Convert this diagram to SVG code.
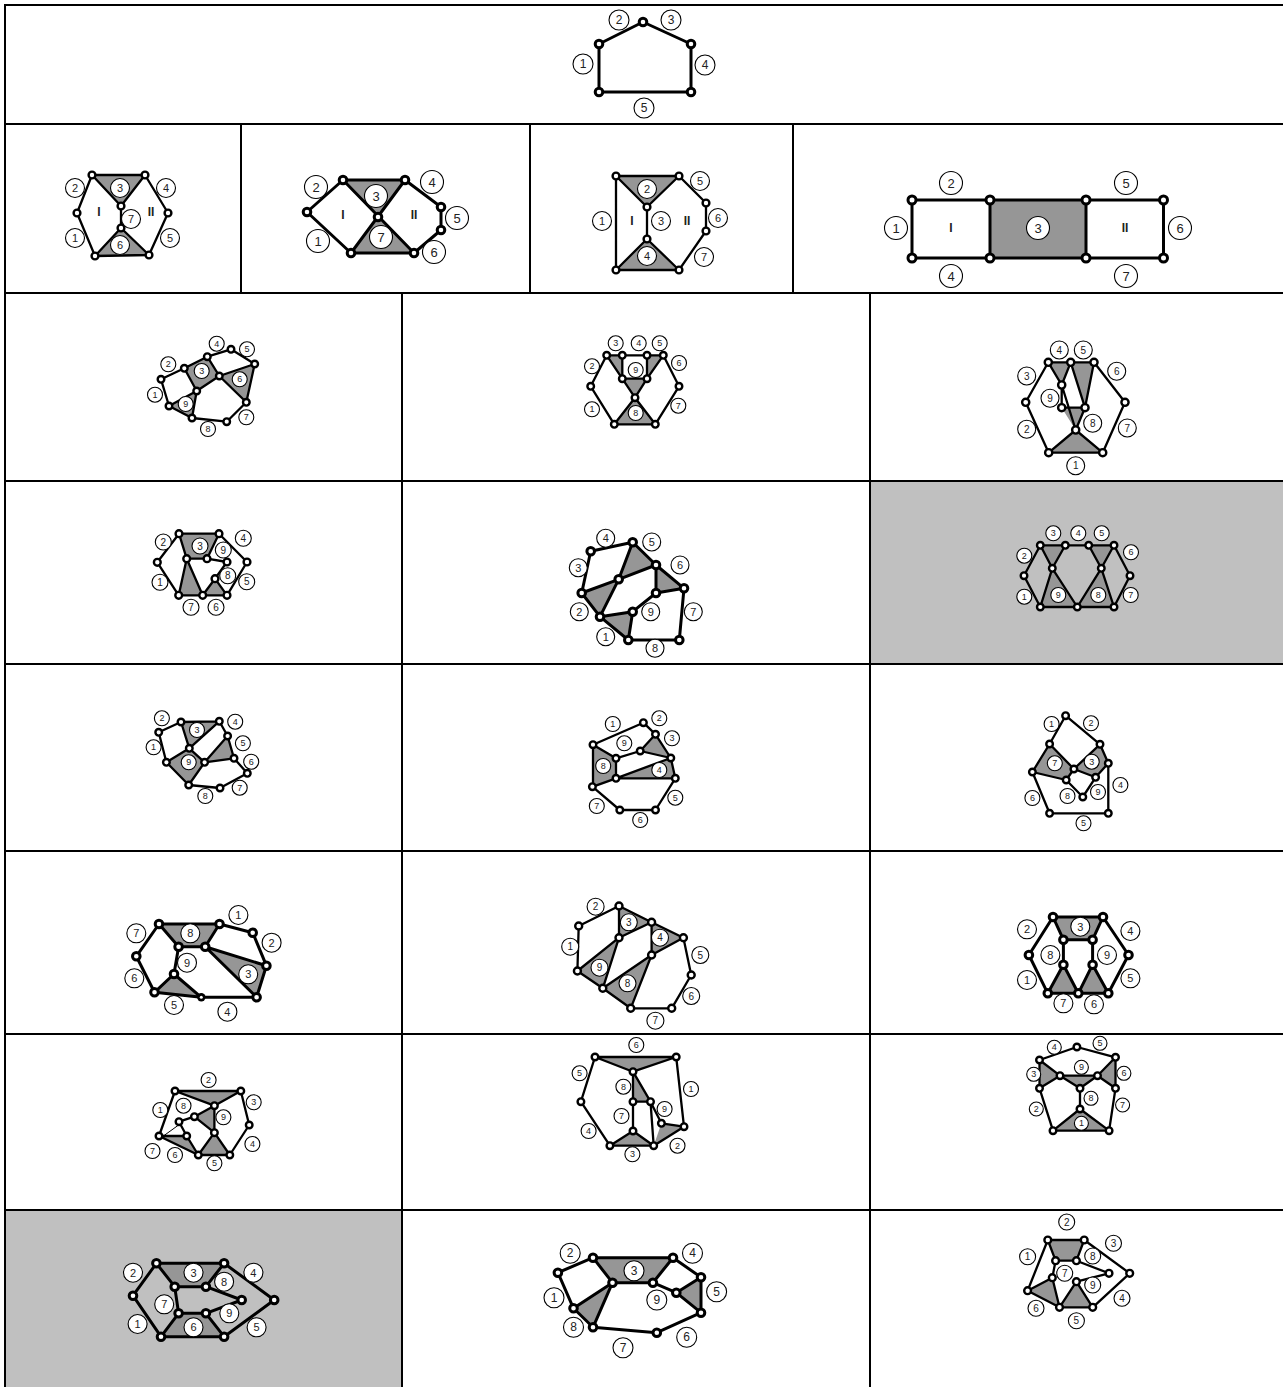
<svg xmlns="http://www.w3.org/2000/svg" width="1283" height="1387" viewBox="0 0 1283 1387">
<style>
text{font-family:"Liberation Sans",Arial,sans-serif;text-anchor:middle;dominant-baseline:central;fill:#222}
.grid{fill:none;stroke:#000;stroke-width:2}
.f{fill:#969696;stroke:none}
.e{fill:none;stroke:#000;stroke-width:2.3;stroke-linejoin:round;stroke-linecap:round}
.v{fill:#fff;stroke:#000;stroke-width:2.4}
.l circle{fill:#fff;stroke:#000;stroke-width:1.1}
.t7 text{font-size:9px}.t8 text{font-size:10px}.t9 text{font-size:11px}.t10 text{font-size:12px}.t11 text{font-size:13px}
.r text{font-weight:bold;font-size:12px}
.big .e{stroke-width:3}.big .v{stroke-width:3}
</style>
<g id="table">
<rect x="871" y="482" width="412" height="181" fill="#c0c0c0"/>
<rect x="6" y="1211" width="396" height="176" fill="#c0c0c0"/>
<path class="grid" d="M5 1387V5H1283M5 124H1283M5 293H1283M5 481H1283M5 664H1283M5 851H1283M5 1034H1283M5 1210H1283M241 124V293M530 124V293M793 124V293M402 293V1387M870 293V1387"/>
</g>
<g id="p01" class="t10 big">
<path class="e" d="M599 44L643 22L691 44V92H599Z"/>
<g><circle class="v" cx="599" cy="44" r="3.8"/><circle class="v" cx="643" cy="22" r="3.8"/><circle class="v" cx="691" cy="44" r="3.8"/><circle class="v" cx="691" cy="92" r="3.8"/><circle class="v" cx="599" cy="92" r="3.8"/></g>
<g class="l"><circle cx="583" cy="64" r="10"/><text x="583" y="64">1</text></g><g class="l"><circle cx="619" cy="20" r="10"/><text x="619" y="20">2</text></g><g class="l"><circle cx="671" cy="20" r="10"/><text x="671" y="20">3</text></g><g class="l"><circle cx="705" cy="65" r="10"/><text x="705" y="65">4</text></g><g class="l"><circle cx="644" cy="108" r="10"/><text x="644" y="108">5</text></g>
</g>
<g id="p02" class="t9">
<path class="f" d="M92 175H145L121 206ZM121 228L95 256L149 255Z"/>
<path class="e" d="M92 175H145L121 206ZM121 206V228M121 228L95 256L149 255ZM92 175L77 213L95 256M145 175L168 213L149 255"/>
<g><circle class="v" cx="92" cy="175" r="3.4"/><circle class="v" cx="145" cy="175" r="3.4"/><circle class="v" cx="121" cy="206" r="3.4"/><circle class="v" cx="121" cy="228" r="3.4"/><circle class="v" cx="77" cy="213" r="3.4"/><circle class="v" cx="168" cy="213" r="3.4"/><circle class="v" cx="95" cy="256" r="3.4"/><circle class="v" cx="149" cy="255" r="3.4"/></g>
<g class="l"><circle cx="75" cy="188" r="9.5"/><text x="75" y="188">2</text></g><g class="l"><circle cx="75" cy="238" r="9.5"/><text x="75" y="238">1</text></g><g class="l"><circle cx="120" cy="188" r="9.5"/><text x="120" y="188">3</text></g><g class="l"><circle cx="131" cy="219" r="9.5"/><text x="131" y="219">7</text></g><g class="l"><circle cx="120" cy="245" r="9.5"/><text x="120" y="245">6</text></g><g class="l"><circle cx="166" cy="188" r="9.5"/><text x="166" y="188">4</text></g><g class="l"><circle cx="170" cy="238" r="9.5"/><text x="170" y="238">5</text></g>
<g class="r"><text x="99" y="212">I</text><text x="151" y="212">II</text></g>
</g>
<g id="p03" class="t11 big">
<path class="f" d="M343 180H405L378 217ZM378 217L351 253H414Z"/>
<path class="e" d="M343 180H405L351 253H414L343 180M307 212L343 180M307 212L351 253M405 180L441 207V230L414 253"/>
<g><circle class="v" cx="343" cy="180" r="3.8"/><circle class="v" cx="405" cy="180" r="3.8"/><circle class="v" cx="378" cy="217" r="3.8"/><circle class="v" cx="307" cy="212" r="3.8"/><circle class="v" cx="351" cy="253" r="3.8"/><circle class="v" cx="414" cy="253" r="3.8"/><circle class="v" cx="441" cy="207" r="3.8"/><circle class="v" cx="441" cy="230" r="3.8"/></g>
<g class="l"><circle cx="316" cy="187" r="11.5"/><text x="316" y="187">2</text></g><g class="l"><circle cx="318" cy="241" r="11.5"/><text x="318" y="241">1</text></g><g class="l"><circle cx="376" cy="196" r="11.5"/><text x="376" y="196">3</text></g><g class="l"><circle cx="381" cy="237" r="11.5"/><text x="381" y="237">7</text></g><g class="l"><circle cx="432" cy="182" r="11.5"/><text x="432" y="182">4</text></g><g class="l"><circle cx="457" cy="218" r="11.5"/><text x="457" y="218">5</text></g><g class="l"><circle cx="434" cy="252" r="11.5"/><text x="434" y="252">6</text></g>
<g class="r"><text x="343" y="215">I</text><text x="414" y="215">II</text></g>
</g>
<g id="p04" class="t9">
<path class="f" d="M616 176H679L647 207ZM647 239L616 270H679Z"/>
<path class="e" d="M616 176H679L647 207ZM647 207V239M647 239L616 270H679ZM616 176V270M679 176L706 203V231L679 270"/>
<g><circle class="v" cx="616" cy="176" r="3.4"/><circle class="v" cx="679" cy="176" r="3.4"/><circle class="v" cx="647" cy="207" r="3.4"/><circle class="v" cx="647" cy="239" r="3.4"/><circle class="v" cx="616" cy="270" r="3.4"/><circle class="v" cx="679" cy="270" r="3.4"/><circle class="v" cx="706" cy="203" r="3.4"/><circle class="v" cx="706" cy="231" r="3.4"/></g>
<g class="l"><circle cx="602" cy="221" r="9.5"/><text x="602" y="221">1</text></g><g class="l"><circle cx="647" cy="189" r="9.5"/><text x="647" y="189">2</text></g><g class="l"><circle cx="661" cy="221" r="9.5"/><text x="661" y="221">3</text></g><g class="l"><circle cx="647" cy="256" r="9.5"/><text x="647" y="256">4</text></g><g class="l"><circle cx="700" cy="181" r="9.5"/><text x="700" y="181">5</text></g><g class="l"><circle cx="718" cy="218" r="9.5"/><text x="718" y="218">6</text></g><g class="l"><circle cx="704" cy="257" r="9.5"/><text x="704" y="257">7</text></g>
<g class="r"><text x="632" y="221">I</text><text x="687" y="221">II</text></g>
</g>
<g id="p05" class="t11 big">
<rect class="f" x="990" y="200" width="96" height="58"/>
<path class="e" d="M912 200H1163.500V258H912ZM990 200V258M1086 200V258"/>
<g><circle class="v" cx="912" cy="200" r="4"/><circle class="v" cx="990" cy="200" r="4"/><circle class="v" cx="1086" cy="200" r="4"/><circle class="v" cx="1163.500" cy="200" r="4"/><circle class="v" cx="912" cy="258" r="4"/><circle class="v" cx="990" cy="258" r="4"/><circle class="v" cx="1086" cy="258" r="4"/><circle class="v" cx="1163.500" cy="258" r="4"/></g>
<g class="l"><circle cx="951" cy="183" r="11.500"/><text x="951" y="183">2</text></g><g class="l"><circle cx="1126" cy="183" r="11.500"/><text x="1126" y="183">5</text></g><g class="l"><circle cx="896" cy="228" r="11.500"/><text x="896" y="228">1</text></g><g class="l"><circle cx="1038" cy="228" r="11.500"/><text x="1038" y="228">3</text></g><g class="l"><circle cx="1180" cy="228" r="11.500"/><text x="1180" y="228">6</text></g><g class="l"><circle cx="951" cy="276" r="11.500"/><text x="951" y="276">4</text></g><g class="l"><circle cx="1126" cy="276" r="11.500"/><text x="1126" y="276">7</text></g>
<g class="r"><text x="951" y="228">I</text><text x="1125" y="228">II</text></g>
</g>
<g id="p06" class="t7">
<path class="f" d="M184.300 368.300L207.300 356.700L219.300 376L196.700 391ZM219.300 376L254.700 364L246.300 402.300ZM169 406L196.700 391L192 418Z"/>
<path class="e" d="M161 379.300L184.300 368.300L207.300 356.700L231 349.300L254.700 364L219.300 376L246.300 402.300L254.700 364M246.300 402.300L226.700 421.700L192 418L169 406L161 379.300M169 406L196.700 391L192 418M196.700 391L219.300 376L207.300 356.700M184.300 368.300L196.700 391"/>
<g><circle class="v" cx="161" cy="379.300" r="3.3"/><circle class="v" cx="184.300" cy="368.300" r="3.3"/><circle class="v" cx="207.300" cy="356.700" r="3.3"/><circle class="v" cx="231" cy="349.300" r="3.3"/><circle class="v" cx="254.700" cy="364" r="3.3"/><circle class="v" cx="219.300" cy="376" r="3.3"/><circle class="v" cx="196.700" cy="391" r="3.3"/><circle class="v" cx="169" cy="406" r="3.3"/><circle class="v" cx="192" cy="418" r="3.3"/><circle class="v" cx="226.700" cy="421.700" r="3.3"/><circle class="v" cx="246.300" cy="402.300" r="3.3"/></g>
<g class="l"><circle cx="155" cy="394.700" r="7.500"/><text x="155" y="394.700">1</text></g><g class="l"><circle cx="168.300" cy="364.300" r="7.500"/><text x="168.300" y="364.300">2</text></g><g class="l"><circle cx="201.700" cy="371" r="7.500"/><text x="201.700" y="371">3</text></g><g class="l"><circle cx="216.700" cy="343.700" r="7.500"/><text x="216.700" y="343.700">4</text></g><g class="l"><circle cx="247" cy="349.300" r="7.500"/><text x="247" y="349.300">5</text></g><g class="l"><circle cx="239.700" cy="379.300" r="7.500"/><text x="239.700" y="379.300">6</text></g><g class="l"><circle cx="246.300" cy="417.300" r="7.500"/><text x="246.300" y="417.300">7</text></g><g class="l"><circle cx="208" cy="429" r="7.500"/><text x="208" y="429">8</text></g><g class="l"><circle cx="185.700" cy="404" r="7.500"/><text x="185.700" y="404">9</text></g>
</g>
<g id="p07" class="t7">
<path class="f" d="M606.700 355.300H622.300V378.700ZM647 355.300H663.300L647 378.700ZM622.300 378.700H647L635 397.700ZM635 397.700L614.300 424.300H655.300Z"/>
<path class="e" d="M606.700 355.300H663.300M606.700 355.300L622.300 378.700L622.300 355.300M647 355.300V378.700L663.300 355.300M622.300 378.700H647L635 397.700ZM635 397.700L614.300 424.300H655.300ZM606.700 355.300L590.700 386.300L614.300 424.300M663.300 355.300L679 386.300L655.300 424.300"/>
<g><circle class="v" cx="606.700" cy="355.300" r="3.300"/><circle class="v" cx="622.300" cy="355.300" r="3.300"/><circle class="v" cx="647" cy="355.300" r="3.300"/><circle class="v" cx="663.300" cy="355.300" r="3.300"/><circle class="v" cx="622.300" cy="378.700" r="3.300"/><circle class="v" cx="647" cy="378.700" r="3.300"/><circle class="v" cx="635" cy="397.700" r="3.300"/><circle class="v" cx="590.700" cy="386.300" r="3.300"/><circle class="v" cx="679" cy="386.300" r="3.300"/><circle class="v" cx="614.300" cy="424.300" r="3.300"/><circle class="v" cx="655.300" cy="424.300" r="3.300"/></g>
<g class="l"><circle cx="592" cy="409.300" r="7.500"/><text x="592" y="409.300">1</text></g><g class="l"><circle cx="592" cy="366.300" r="7.500"/><text x="592" y="366.300">2</text></g><g class="l"><circle cx="615.700" cy="343.300" r="7.500"/><text x="615.700" y="343.300">3</text></g><g class="l"><circle cx="638.700" cy="343.300" r="7.500"/><text x="638.700" y="343.300">4</text></g><g class="l"><circle cx="659.700" cy="343.300" r="7.500"/><text x="659.700" y="343.300">5</text></g><g class="l"><circle cx="679" cy="363" r="7.500"/><text x="679" y="363">6</text></g><g class="l"><circle cx="678.300" cy="405.700" r="7.500"/><text x="678.300" y="405.700">7</text></g><g class="l"><circle cx="635.700" cy="413" r="7.500"/><text x="635.700" y="413">8</text></g><g class="l"><circle cx="635.700" cy="370" r="7.500"/><text x="635.700" y="370">9</text></g>
</g>
<g id="p08" class="t8">
<path class="f" d="M1048.300 362.300H1070.700L1061.700 385ZM1070.700 362.300H1094L1085 407.700ZM1061.700 407.700H1085L1075.700 430ZM1075.700 430L1048.700 452.700H1102.700Z"/>
<path class="e" d="M1048.300 362.300H1094M1048.300 362.300L1061.700 385L1070.700 362.300L1085 407.700L1094 362.300M1061.700 385V407.700H1085L1075.700 430ZM1075.700 430L1048.700 452.700H1102.700ZM1048.300 362.300L1025.700 402.300L1048.700 452.700M1094 362.300L1125 402.300L1102.700 452.700"/>
<g><circle class="v" cx="1048.300" cy="362.300" r="3.600"/><circle class="v" cx="1070.700" cy="362.300" r="3.600"/><circle class="v" cx="1094" cy="362.300" r="3.600"/><circle class="v" cx="1061.700" cy="385" r="3.600"/><circle class="v" cx="1061.700" cy="407.700" r="3.600"/><circle class="v" cx="1085" cy="407.700" r="3.600"/><circle class="v" cx="1075.700" cy="430" r="3.600"/><circle class="v" cx="1025.700" cy="402.300" r="3.600"/><circle class="v" cx="1125" cy="402.300" r="3.600"/><circle class="v" cx="1048.700" cy="452.700" r="3.600"/><circle class="v" cx="1102.700" cy="452.700" r="3.600"/></g>
<g class="l"><circle cx="1075.700" cy="465.700" r="9"/><text x="1075.700" y="465.700">1</text></g><g class="l"><circle cx="1026.700" cy="429.300" r="9"/><text x="1026.700" y="429.300">2</text></g><g class="l"><circle cx="1026.700" cy="376" r="9"/><text x="1026.700" y="376">3</text></g><g class="l"><circle cx="1059.300" cy="350" r="9"/><text x="1059.300" y="350">4</text></g><g class="l"><circle cx="1083.300" cy="350" r="9"/><text x="1083.300" y="350">5</text></g><g class="l"><circle cx="1116.700" cy="371.300" r="9"/><text x="1116.700" y="371.300">6</text></g><g class="l"><circle cx="1127.300" cy="428" r="9"/><text x="1127.300" y="428">7</text></g><g class="l"><circle cx="1092.700" cy="423.300" r="9"/><text x="1092.700" y="423.300">8</text></g><g class="l"><circle cx="1050" cy="398.300" r="9"/><text x="1050" y="398.300">9</text></g>
</g>
<g id="p09" class="t8">
<path class="f" d="M179 533.700H219L207 558.700H186.700ZM186.700 558.700L178.700 595.300H202.700ZM215 578.700L202.700 595.300H227Z"/>
<path class="e" d="M179 533.700H219L207 558.700H186.700ZM207 558.700L227 562M186.700 558.700L178.700 595.300H227M186.700 558.700L202.700 595.300L215 578.700L227 595.300M215 578.700L227 562M219 533.700L247 562L227 595.300M179 533.700L157.300 562.300L178.700 595.300"/>
<g><circle class="v" cx="179" cy="533.700" r="3.400"/><circle class="v" cx="219" cy="533.700" r="3.400"/><circle class="v" cx="186.700" cy="558.700" r="3.400"/><circle class="v" cx="207" cy="558.700" r="3.400"/><circle class="v" cx="227" cy="562" r="3.400"/><circle class="v" cx="247" cy="562" r="3.400"/><circle class="v" cx="157.300" cy="562.300" r="3.400"/><circle class="v" cx="215" cy="578.700" r="3.400"/><circle class="v" cx="178.700" cy="595.300" r="3.400"/><circle class="v" cx="202.700" cy="595.300" r="3.400"/><circle class="v" cx="227" cy="595.300" r="3.400"/></g>
<g class="l"><circle cx="160" cy="582.300" r="8"/><text x="160" y="582.300">1</text></g><g class="l"><circle cx="163.300" cy="542" r="8"/><text x="163.300" y="542">2</text></g><g class="l"><circle cx="200" cy="546" r="8"/><text x="200" y="546">3</text></g><g class="l"><circle cx="243.300" cy="538.300" r="8"/><text x="243.300" y="538.300">4</text></g><g class="l"><circle cx="246.700" cy="581.700" r="8"/><text x="246.700" y="581.700">5</text></g><g class="l"><circle cx="216" cy="607.300" r="8"/><text x="216" y="607.300">6</text></g><g class="l"><circle cx="191" cy="607.300" r="8"/><text x="191" y="607.300">7</text></g><g class="l"><circle cx="227.700" cy="575.700" r="8"/><text x="227.700" y="575.700">8</text></g><g class="l"><circle cx="223.300" cy="550" r="8"/><text x="223.300" y="550">9</text></g>
</g>
<g id="p10" class="t9 big">
<path class="f" d="M632.700 542.300L656 565L618.700 579.300ZM618.700 579.300L581.700 593L600 616.700ZM656 565L684 588.300L656 593ZM600 616.700L632.700 611.700L628.300 640Z"/>
<path class="e" d="M590.700 551.300L632.700 542.300L656 565L684 588.300L656 593L656 565L618.700 579.300L632.700 542.300M618.700 579.300L581.700 593L600 616.700ZM581.700 593L590.700 551.300M600 616.700L632.700 611.700L656 593M632.700 611.700L628.300 640L600 616.700M628.300 640H679.300L684 588.300"/>
<g><circle class="v" cx="590.700" cy="551.300" r="3.800"/><circle class="v" cx="632.700" cy="542.300" r="3.800"/><circle class="v" cx="656" cy="565" r="3.800"/><circle class="v" cx="684" cy="588.300" r="3.800"/><circle class="v" cx="618.700" cy="579.300" r="3.800"/><circle class="v" cx="581.700" cy="593" r="3.800"/><circle class="v" cx="600" cy="616.700" r="3.800"/><circle class="v" cx="656" cy="593" r="3.800"/><circle class="v" cx="632.700" cy="611.700" r="3.800"/><circle class="v" cx="628.300" cy="640" r="3.800"/><circle class="v" cx="679.300" cy="640" r="3.800"/></g>
<g class="l"><circle cx="605.700" cy="636.700" r="9"/><text x="605.700" y="636.700">1</text></g><g class="l"><circle cx="579.300" cy="611.700" r="9"/><text x="579.300" y="611.700">2</text></g><g class="l"><circle cx="578.300" cy="567.700" r="9"/><text x="578.300" y="567.700">3</text></g><g class="l"><circle cx="605.700" cy="538.300" r="9"/><text x="605.700" y="538.300">4</text></g><g class="l"><circle cx="651.700" cy="542" r="9"/><text x="651.700" y="542">5</text></g><g class="l"><circle cx="680" cy="565" r="9"/><text x="680" y="565">6</text></g><g class="l"><circle cx="693.300" cy="611.700" r="9"/><text x="693.300" y="611.700">7</text></g><g class="l"><circle cx="655" cy="648.300" r="9"/><text x="655" y="648.300">8</text></g><g class="l"><circle cx="650.700" cy="611.700" r="9"/><text x="650.700" y="611.700">9</text></g>
</g>
<g id="p11" class="t7">
<path class="f" d="M1040.300 545.300H1065.300L1052.300 568.300ZM1088.700 545.300H1114L1101.300 568.300ZM1052.300 568.300L1040.300 607H1077.300ZM1101.300 568.300L1077.300 607H1114Z"/>
<path class="e" d="M1040.300 545.300H1114L1101.300 568.300L1088.700 545.300M1040.300 545.300L1052.300 568.300L1065.300 545.300M1052.300 568.300L1040.300 607H1114L1101.300 568.300L1077.300 607L1052.300 568.300M1040.300 545.300L1024 575.700L1040.300 607M1114 545.300L1130 575.700L1114 607"/>
<g><circle class="v" cx="1040.300" cy="545.300" r="3.300"/><circle class="v" cx="1065.300" cy="545.300" r="3.300"/><circle class="v" cx="1088.700" cy="545.300" r="3.300"/><circle class="v" cx="1114" cy="545.300" r="3.300"/><circle class="v" cx="1052.300" cy="568.300" r="3.300"/><circle class="v" cx="1101.300" cy="568.300" r="3.300"/><circle class="v" cx="1024" cy="575.700" r="3.300"/><circle class="v" cx="1130" cy="575.700" r="3.300"/><circle class="v" cx="1040.300" cy="607" r="3.300"/><circle class="v" cx="1077.300" cy="607" r="3.300"/><circle class="v" cx="1114" cy="607" r="3.300"/></g>
<g class="l"><circle cx="1024.300" cy="596.700" r="7.500"/><text x="1024.300" y="596.700">1</text></g><g class="l"><circle cx="1024.300" cy="555.700" r="7.500"/><text x="1024.300" y="555.700">2</text></g><g class="l"><circle cx="1053.300" cy="533.300" r="7.500"/><text x="1053.300" y="533.300">3</text></g><g class="l"><circle cx="1078.300" cy="533.300" r="7.500"/><text x="1078.300" y="533.300">4</text></g><g class="l"><circle cx="1101.700" cy="533.300" r="7.500"/><text x="1101.700" y="533.300">5</text></g><g class="l"><circle cx="1131" cy="552.300" r="7.500"/><text x="1131" y="552.300">6</text></g><g class="l"><circle cx="1130.700" cy="595" r="7.500"/><text x="1130.700" y="595">7</text></g><g class="l"><circle cx="1098.300" cy="595" r="7.500"/><text x="1098.300" y="595">8</text></g><g class="l"><circle cx="1058.300" cy="595" r="7.500"/><text x="1058.300" y="595">9</text></g>
</g>
<g id="p12" class="t7">
<path class="f" d="M181 722L219.300 721.300L189.300 748.300ZM227.600 736L204.600 762.300L234 758.300ZM166.400 762.300L189.300 748.300L204.600 762.300L188.700 785Z"/>
<path class="e" d="M181 722L219.300 721.300L189.300 748.300ZM181 722L158.700 732.300L166.400 762.300L189.300 748.300L204.600 762.300L188.700 785L166.400 762.300M219.300 721.300L227.600 736L204.600 762.300L234 758.300L227.600 736M234 758.300L247.300 773.300L220 788L188.700 785"/>
<g><circle class="v" cx="181" cy="722" r="3.300"/><circle class="v" cx="219.300" cy="721.300" r="3.300"/><circle class="v" cx="158.700" cy="732.300" r="3.300"/><circle class="v" cx="227.600" cy="736" r="3.300"/><circle class="v" cx="189.300" cy="748.300" r="3.300"/><circle class="v" cx="166.400" cy="762.300" r="3.300"/><circle class="v" cx="204.600" cy="762.300" r="3.300"/><circle class="v" cx="234" cy="758.300" r="3.300"/><circle class="v" cx="247.300" cy="773.300" r="3.300"/><circle class="v" cx="188.700" cy="785" r="3.300"/><circle class="v" cx="220" cy="788" r="3.300"/></g>
<g class="l"><circle cx="153.600" cy="747.300" r="7.500"/><text x="153.600" y="747.300">1</text></g><g class="l"><circle cx="161.900" cy="718.300" r="7.500"/><text x="161.900" y="718.300">2</text></g><g class="l"><circle cx="197" cy="730" r="7.500"/><text x="197" y="730">3</text></g><g class="l"><circle cx="235.200" cy="721.700" r="7.500"/><text x="235.200" y="721.700">4</text></g><g class="l"><circle cx="242.900" cy="743.300" r="7.500"/><text x="242.900" y="743.300">5</text></g><g class="l"><circle cx="251.200" cy="761.700" r="7.500"/><text x="251.200" y="761.700">6</text></g><g class="l"><circle cx="239.700" cy="787.700" r="7.500"/><text x="239.700" y="787.700">7</text></g><g class="l"><circle cx="205.300" cy="796" r="7.500"/><text x="205.300" y="796">8</text></g><g class="l"><circle cx="188.700" cy="762.300" r="7.500"/><text x="188.700" y="762.300">9</text></g>
</g>
<g id="p13" class="t7">
<path class="f" d="M593 744.700L616 758.300V778.300L592.400 786.700ZM655.500 734.300L640.200 751L670.800 758ZM616 778.300L670.800 758L675.300 778.300Z"/>
<path class="e" d="M593 744.700L643.400 722.700L655.500 734.300L640.200 751L670.800 758L655.500 734.300M640.200 751L616 758.300L593 744.700V786.700L616 778.300V758.300M616 778.300L670.800 758L675.300 778.300H616M675.300 778.300L655.500 810H619.800L592.400 786.700"/>
<g><circle class="v" cx="643.400" cy="722.700" r="3.300"/><circle class="v" cx="655.500" cy="734.300" r="3.300"/><circle class="v" cx="640.200" cy="751" r="3.300"/><circle class="v" cx="670.800" cy="758" r="3.300"/><circle class="v" cx="593" cy="744.700" r="3.300"/><circle class="v" cx="616" cy="758.300" r="3.300"/><circle class="v" cx="616" cy="778.300" r="3.300"/><circle class="v" cx="592.400" cy="786.700" r="3.300"/><circle class="v" cx="675.300" cy="778.300" r="3.300"/><circle class="v" cx="655.500" cy="810" r="3.300"/><circle class="v" cx="619.800" cy="810" r="3.300"/></g>
<g class="l"><circle cx="612.800" cy="724" r="7.500"/><text x="612.800" y="724">1</text></g><g class="l"><circle cx="659.300" cy="718.300" r="7.500"/><text x="659.300" y="718.300">2</text></g><g class="l"><circle cx="672" cy="738.300" r="7.500"/><text x="672" y="738.300">3</text></g><g class="l"><circle cx="659.300" cy="770" r="7.500"/><text x="659.300" y="770">4</text></g><g class="l"><circle cx="675.300" cy="797.700" r="7.500"/><text x="675.300" y="797.700">5</text></g><g class="l"><circle cx="640.200" cy="820" r="7.500"/><text x="640.200" y="820">6</text></g><g class="l"><circle cx="596.800" cy="806" r="7.500"/><text x="596.800" y="806">7</text></g><g class="l"><circle cx="603.200" cy="766" r="7.500"/><text x="603.200" y="766">8</text></g><g class="l"><circle cx="624.300" cy="743.300" r="7.500"/><text x="624.300" y="743.300">9</text></g>
</g>
<g id="p14" class="t7">
<path class="f" d="M1049.600 744L1032.400 772L1066.200 780L1073.900 769ZM1100 744.300L1073.900 769L1095.600 777.300L1108.300 763.300Z"/>
<path class="e" d="M1049.600 744L1065.600 715.700L1100 744.300L1108.300 763.300L1095.600 777.300L1073.900 769L1100 744.300M1049.600 744L1032.400 772L1066.200 780L1073.900 769L1049.600 744M1066.200 780L1082.800 797L1095.600 777.300M1108.300 763.300V813.300H1049.600L1032.400 772"/>
<g><circle class="v" cx="1065.600" cy="715.700" r="3.300"/><circle class="v" cx="1049.600" cy="744" r="3.300"/><circle class="v" cx="1100" cy="744.300" r="3.300"/><circle class="v" cx="1032.400" cy="772" r="3.300"/><circle class="v" cx="1073.900" cy="769" r="3.300"/><circle class="v" cx="1066.200" cy="780" r="3.300"/><circle class="v" cx="1108.300" cy="763.300" r="3.300"/><circle class="v" cx="1095.600" cy="777.300" r="3.300"/><circle class="v" cx="1082.800" cy="797" r="3.300"/><circle class="v" cx="1049.600" cy="813.300" r="3.300"/><circle class="v" cx="1108.300" cy="813.300" r="3.300"/></g>
<g class="l"><circle cx="1051.600" cy="724" r="7.500"/><text x="1051.600" y="724">1</text></g><g class="l"><circle cx="1091" cy="723.300" r="7.500"/><text x="1091" y="723.300">2</text></g><g class="l"><circle cx="1091.700" cy="761.700" r="7.500"/><text x="1091.700" y="761.700">3</text></g><g class="l"><circle cx="1120.400" cy="785" r="7.500"/><text x="1120.400" y="785">4</text></g><g class="l"><circle cx="1083.500" cy="823.300" r="7.500"/><text x="1083.500" y="823.300">5</text></g><g class="l"><circle cx="1032.400" cy="798" r="7.500"/><text x="1032.400" y="798">6</text></g><g class="l"><circle cx="1054.800" cy="763.300" r="7.500"/><text x="1054.800" y="763.300">7</text></g><g class="l"><circle cx="1067.500" cy="796" r="7.500"/><text x="1067.500" y="796">8</text></g><g class="l"><circle cx="1098" cy="792" r="7.500"/><text x="1098" y="792">9</text></g>
</g>
<g id="p15" class="t9 big">
<path class="f" d="M159 924H219.500L205.200 946.700H178.600ZM205.200 946.700L266.400 965.700L256.600 997.300ZM174 974L154.500 992.300L201.300 997.300Z"/>
<path class="e" d="M159 924H219.500L205.200 946.700H178.600ZM219.500 924L252.700 932.700L266.400 965.700L256.600 997.300H201.300L154.500 992.300L136.300 956.300L159 924M178.600 946.700L174 974L154.500 992.300M174 974L201.300 997.300M205.200 946.700L266.400 965.700M205.200 946.700L256.600 997.300"/>
<g><circle class="v" cx="159" cy="924" r="3.800"/><circle class="v" cx="219.500" cy="924" r="3.800"/><circle class="v" cx="252.700" cy="932.700" r="3.800"/><circle class="v" cx="178.600" cy="946.700" r="3.800"/><circle class="v" cx="205.200" cy="946.700" r="3.800"/><circle class="v" cx="136.300" cy="956.300" r="3.800"/><circle class="v" cx="266.400" cy="965.700" r="3.800"/><circle class="v" cx="174" cy="974" r="3.800"/><circle class="v" cx="154.500" cy="992.300" r="3.800"/><circle cx="201.300" cy="997.300" r="4.200" fill="#000"/><circle cx="201.300" cy="997.300" r="1.500" fill="#fff"/><circle class="v" cx="256.600" cy="997.300" r="3.800"/></g>
<g class="l"><circle cx="238.400" cy="915" r="9.500"/><text x="238.400" y="915">1</text></g><g class="l"><circle cx="271.600" cy="942.700" r="9.500"/><text x="271.600" y="942.700">2</text></g><g class="l"><circle cx="248.200" cy="974.300" r="9.500"/><text x="248.200" y="974.300">3</text></g><g class="l"><circle cx="227.400" cy="1011.700" r="9.500"/><text x="227.400" y="1011.700">4</text></g><g class="l"><circle cx="174" cy="1005" r="9.500"/><text x="174" y="1005">5</text></g><g class="l"><circle cx="134.300" cy="978.300" r="9.500"/><text x="134.300" y="978.300">6</text></g><g class="l"><circle cx="136.300" cy="933.300" r="9.500"/><text x="136.300" y="933.300">7</text></g><g class="l"><circle cx="190.300" cy="933.300" r="9.500"/><text x="190.300" y="933.300">8</text></g><g class="l"><circle cx="187" cy="962.700" r="9.500"/><text x="187" y="962.700">9</text></g>
</g>
<g id="p16" class="t8">
<path class="f" d="M619 906L651.600 922.300L619 937.700ZM651.600 922.300L683.400 937.700L651.600 955ZM619 937.700L577.400 971L602.800 988.300ZM651.600 955L602.800 988.300L630.700 1008.300Z"/>
<path class="e" d="M578.700 926L619 906L651.600 922.300L683.400 937.700L691.200 975L671.700 1008.300H630.700L602.800 988.300L577.400 971L578.700 926M619 906V937.700L651.600 922.300V955L683.400 937.700M619 937.700L577.400 971M619 937.700L602.800 988.300M651.600 955L602.800 988.300M651.600 955L630.700 1008.300"/>
<g><circle class="v" cx="619" cy="906" r="3.500"/><circle class="v" cx="651.600" cy="922.300" r="3.500"/><circle class="v" cx="683.400" cy="937.700" r="3.500"/><circle class="v" cx="578.700" cy="926" r="3.500"/><circle class="v" cx="619" cy="937.700" r="3.500"/><circle class="v" cx="651.600" cy="955" r="3.500"/><circle class="v" cx="691.200" cy="975" r="3.500"/><circle class="v" cx="577.400" cy="971" r="3.500"/><circle class="v" cx="602.800" cy="988.300" r="3.500"/><circle class="v" cx="630.700" cy="1008.300" r="3.500"/><circle class="v" cx="671.700" cy="1008.300" r="3.500"/></g>
<g class="l"><circle cx="570.200" cy="946.700" r="8.500"/><text x="570.200" y="946.700">1</text></g><g class="l"><circle cx="595.600" cy="906.700" r="8.500"/><text x="595.600" y="906.700">2</text></g><g class="l"><circle cx="628.800" cy="922.300" r="8.500"/><text x="628.800" y="922.300">3</text></g><g class="l"><circle cx="660" cy="937.700" r="8.500"/><text x="660" y="937.700">4</text></g><g class="l"><circle cx="700.300" cy="955" r="8.500"/><text x="700.300" y="955">5</text></g><g class="l"><circle cx="691.200" cy="996" r="8.500"/><text x="691.200" y="996">6</text></g><g class="l"><circle cx="655.400" cy="1020.700" r="8.500"/><text x="655.400" y="1020.700">7</text></g><g class="l"><circle cx="627.500" cy="983.300" r="8.500"/><text x="627.500" y="983.300">8</text></g><g class="l"><circle cx="599.500" cy="967.700" r="8.500"/><text x="599.500" y="967.700">9</text></g>
</g>
<g id="p17" class="t9 big">
<path class="f" d="M1053 917H1103L1092.600 939.700H1063.400ZM1063.400 964.700L1047.800 993.300H1078.300ZM1092.600 964.700L1078.300 993.300H1108.300Z"/>
<path class="e" d="M1053 917H1103L1092.600 939.700H1063.400ZM1063.400 939.700V964.700L1047.800 993.300H1108.300L1092.600 964.700V939.700M1063.400 964.700L1078.300 993.300L1092.600 964.700M1053 917L1028.900 955L1047.800 993.300M1103 917L1128.500 955L1108.300 993.300"/>
<g><circle class="v" cx="1053" cy="917" r="3.800"/><circle class="v" cx="1103" cy="917" r="3.800"/><circle class="v" cx="1063.400" cy="939.700" r="3.800"/><circle class="v" cx="1092.600" cy="939.700" r="3.800"/><circle class="v" cx="1028.900" cy="955" r="3.800"/><circle class="v" cx="1128.500" cy="955" r="3.800"/><circle class="v" cx="1063.400" cy="964.700" r="3.800"/><circle class="v" cx="1092.600" cy="964.700" r="3.800"/><circle class="v" cx="1047.800" cy="993.300" r="3.800"/><circle class="v" cx="1078.300" cy="993.300" r="3.800"/><circle class="v" cx="1108.300" cy="993.300" r="3.800"/></g>
<g class="l"><circle cx="1027" cy="980" r="9.500"/><text x="1027" y="980">1</text></g><g class="l"><circle cx="1027" cy="929.300" r="9.500"/><text x="1027" y="929.300">2</text></g><g class="l"><circle cx="1080.300" cy="926.700" r="9.500"/><text x="1080.300" y="926.700">3</text></g><g class="l"><circle cx="1130.400" cy="931" r="9.500"/><text x="1130.400" y="931">4</text></g><g class="l"><circle cx="1130.400" cy="978.300" r="9.500"/><text x="1130.400" y="978.300">5</text></g><g class="l"><circle cx="1094" cy="1004.300" r="9.500"/><text x="1094" y="1004.300">6</text></g><g class="l"><circle cx="1063.400" cy="1003.300" r="9.500"/><text x="1063.400" y="1003.300">7</text></g><g class="l"><circle cx="1050.400" cy="955" r="9.500"/><text x="1050.400" y="955">8</text></g><g class="l"><circle cx="1107" cy="955" r="9.500"/><text x="1107" y="955">9</text></g>
</g>
<g id="p18" class="t7">
<path class="f" d="M175 1091H240.800L214.400 1105.700ZM214.400 1105.700L194.400 1116.700L214.400 1132.700ZM159 1136H186.700L198.300 1155ZM214.400 1132.700L198.300 1155H229.800Z"/>
<path class="e" d="M175 1091H240.800L214.400 1105.700ZM214.400 1105.700V1132.700L194.400 1116.700L214.400 1105.700M194.400 1116.700L179 1121.700L186.700 1136M159 1136H186.700L198.300 1155ZM214.400 1132.700L198.300 1155H229.800ZM240.800 1091L249.200 1125L229.800 1155M175 1091L159 1136"/>
<path fill="none" stroke="#000" stroke-width="1" d="M162 1137L180 1124"/>
<g><circle class="v" cx="175" cy="1091" r="3.300"/><circle class="v" cx="240.800" cy="1091" r="3.300"/><circle class="v" cx="214.400" cy="1105.700" r="3.300"/><circle class="v" cx="194.400" cy="1116.700" r="3.300"/><circle class="v" cx="179" cy="1121.700" r="3.300"/><circle class="v" cx="249.200" cy="1125" r="3.300"/><circle class="v" cx="214.400" cy="1132.700" r="3.300"/><circle class="v" cx="159" cy="1136" r="3.300"/><circle class="v" cx="186.700" cy="1136" r="3.300"/><circle class="v" cx="198.300" cy="1155" r="3.300"/><circle class="v" cx="229.800" cy="1155" r="3.300"/></g>
<g class="l"><circle cx="160.300" cy="1110" r="7.500"/><text x="160.300" y="1110">1</text></g><g class="l"><circle cx="208.600" cy="1080" r="7.500"/><text x="208.600" y="1080">2</text></g><g class="l"><circle cx="253.700" cy="1102.300" r="7.500"/><text x="253.700" y="1102.300">3</text></g><g class="l"><circle cx="252.400" cy="1144" r="7.500"/><text x="252.400" y="1144">4</text></g><g class="l"><circle cx="214.400" cy="1163.300" r="7.500"/><text x="214.400" y="1163.300">5</text></g><g class="l"><circle cx="175" cy="1155" r="7.500"/><text x="175" y="1155">6</text></g><g class="l"><circle cx="152.500" cy="1151" r="7.500"/><text x="152.500" y="1151">7</text></g><g class="l"><circle cx="183.500" cy="1105.700" r="7.500"/><text x="183.500" y="1105.700">8</text></g><g class="l"><circle cx="223.400" cy="1117.300" r="7.500"/><text x="223.400" y="1117.300">9</text></g>
</g>
<g id="p19" class="t7">
<path class="f" d="M595 1057H676.200L633 1071.700ZM633 1071.700V1101.700H650.500ZM661.400 1123.300L684 1126.700L653.700 1145.700ZM633 1131L609.900 1145.700H653.700Z"/>
<path class="e" d="M595 1057H676.200L633 1071.700ZM633 1071.700V1101.700H650.500ZM650.500 1101.700L661.400 1123.300L684 1126.700L653.700 1145.700ZM633 1101.700V1131L609.900 1145.700H653.700L633 1131M676.200 1057L684 1126.700M595 1057L580.900 1101.700L609.900 1145.700"/>
<g><circle class="v" cx="595" cy="1057" r="3.300"/><circle class="v" cx="676.200" cy="1057" r="3.300"/><circle class="v" cx="633" cy="1071.700" r="3.300"/><circle class="v" cx="580.900" cy="1101.700" r="3.300"/><circle class="v" cx="633" cy="1101.700" r="3.300"/><circle class="v" cx="650.500" cy="1101.700" r="3.300"/><circle class="v" cx="661.400" cy="1123.300" r="3.300"/><circle class="v" cx="684" cy="1126.700" r="3.300"/><circle class="v" cx="633" cy="1131" r="3.300"/><circle class="v" cx="609.900" cy="1145.700" r="3.300"/><circle class="v" cx="653.700" cy="1145.700" r="3.300"/></g>
<g class="l"><circle cx="691" cy="1089" r="7.500"/><text x="691" y="1089">1</text></g><g class="l"><circle cx="677.500" cy="1145.700" r="7.500"/><text x="677.500" y="1145.700">2</text></g><g class="l"><circle cx="632.400" cy="1154.300" r="7.500"/><text x="632.400" y="1154.300">3</text></g><g class="l"><circle cx="588.600" cy="1131" r="7.500"/><text x="588.600" y="1131">4</text></g><g class="l"><circle cx="579.600" cy="1073.300" r="7.500"/><text x="579.600" y="1073.300">5</text></g><g class="l"><circle cx="636.300" cy="1045" r="7.500"/><text x="636.300" y="1045">6</text></g><g class="l"><circle cx="621.500" cy="1116" r="7.500"/><text x="621.500" y="1116">7</text></g><g class="l"><circle cx="623.400" cy="1086.700" r="7.500"/><text x="623.400" y="1086.700">8</text></g><g class="l"><circle cx="664.600" cy="1109" r="7.500"/><text x="664.600" y="1109">9</text></g>
</g>
<g id="p20" class="t7">
<path class="f" d="M1039.500 1060L1060 1075.700L1039.500 1088.300ZM1115.500 1057.300L1097.500 1075.700L1115.500 1088.300ZM1060 1075.700H1097.500L1080 1088.300ZM1080 1109L1053 1130.700H1109.100Z"/>
<path class="e" d="M1039.500 1060L1076.900 1047L1115.500 1057.300V1088.300L1097.500 1075.700H1060L1039.500 1060V1088.300L1060 1075.700L1080 1088.300L1097.500 1075.700L1115.500 1057.300M1080 1088.300V1109L1053 1130.700H1109.100L1080 1109M1039.500 1088.300L1053 1130.700M1115.500 1088.300L1109.100 1130.700"/>
<g><circle class="v" cx="1076.900" cy="1047" r="3.300"/><circle class="v" cx="1039.500" cy="1060" r="3.300"/><circle class="v" cx="1115.500" cy="1057.300" r="3.300"/><circle class="v" cx="1060" cy="1075.700" r="3.300"/><circle class="v" cx="1097.500" cy="1075.700" r="3.300"/><circle class="v" cx="1039.500" cy="1088.300" r="3.300"/><circle class="v" cx="1115.500" cy="1088.300" r="3.300"/><circle class="v" cx="1080" cy="1088.300" r="3.300"/><circle class="v" cx="1080" cy="1109" r="3.300"/><circle class="v" cx="1053" cy="1130.700" r="3.300"/><circle class="v" cx="1109.100" cy="1130.700" r="3.300"/></g>
<g class="l"><circle cx="1081.400" cy="1123.300" r="7"/><text x="1081.400" y="1123.300">1</text></g><g class="l"><circle cx="1036.300" cy="1109" r="7"/><text x="1036.300" y="1109">2</text></g><g class="l"><circle cx="1033.700" cy="1074.300" r="7"/><text x="1033.700" y="1074.300">3</text></g><g class="l"><circle cx="1054.300" cy="1047.300" r="7"/><text x="1054.300" y="1047.300">4</text></g><g class="l"><circle cx="1100" cy="1043.300" r="7"/><text x="1100" y="1043.300">5</text></g><g class="l"><circle cx="1123.900" cy="1073.300" r="7"/><text x="1123.900" y="1073.300">6</text></g><g class="l"><circle cx="1122.600" cy="1105" r="7"/><text x="1122.600" y="1105">7</text></g><g class="l"><circle cx="1091" cy="1098.300" r="7"/><text x="1091" y="1098.300">8</text></g><g class="l"><circle cx="1081.400" cy="1067.300" r="7"/><text x="1081.400" y="1067.300">9</text></g>
</g>
<g id="p21" class="t9 big">
<path class="f" d="M156.400 1263.300H224.100L205.900 1286.700H174.700ZM178.600 1313.300H205.900L224.100 1336.700H161Z"/>
<path class="e" d="M156.400 1263.300H224.100L205.900 1286.700H174.700ZM205.900 1286.700L241.700 1300L205.900 1313.300H178.600L174.700 1286.700M178.600 1313.300L161 1336.700H224.100L205.900 1313.300M156.400 1263.300L133 1295.700L161 1336.700M224.100 1263.300L274.200 1300L224.100 1336.700"/>
<g><circle class="v" cx="156.400" cy="1263.300" r="3.800"/><circle class="v" cx="224.100" cy="1263.300" r="3.800"/><circle class="v" cx="174.700" cy="1286.700" r="3.800"/><circle class="v" cx="205.900" cy="1286.700" r="3.800"/><circle class="v" cx="133" cy="1295.700" r="3.800"/><circle class="v" cx="241.700" cy="1300" r="3.800"/><circle class="v" cx="274.200" cy="1300" r="3.800"/><circle class="v" cx="178.600" cy="1313.300" r="3.800"/><circle class="v" cx="205.900" cy="1313.300" r="3.800"/><circle class="v" cx="161" cy="1336.700" r="3.800"/><circle class="v" cx="224.100" cy="1336.700" r="3.800"/></g>
<g class="l"><circle cx="137.600" cy="1324" r="9.500"/><text x="137.600" y="1324">1</text></g><g class="l"><circle cx="133" cy="1272.700" r="9.500"/><text x="133" y="1272.700">2</text></g><g class="l"><circle cx="193.500" cy="1272.700" r="9.500"/><text x="193.500" y="1272.700">3</text></g><g class="l"><circle cx="253.400" cy="1272.700" r="9.500"/><text x="253.400" y="1272.700">4</text></g><g class="l"><circle cx="256.600" cy="1327.300" r="9.500"/><text x="256.600" y="1327.300">5</text></g><g class="l"><circle cx="193.500" cy="1327.300" r="9.500"/><text x="193.500" y="1327.300">6</text></g><g class="l"><circle cx="164.200" cy="1304.300" r="9.500"/><text x="164.200" y="1304.300">7</text></g><g class="l"><circle cx="224.100" cy="1281.700" r="9.500"/><text x="224.100" y="1281.700">8</text></g><g class="l"><circle cx="229.300" cy="1313.300" r="9.500"/><text x="229.300" y="1313.300">9</text></g>
</g>
<g id="p22" class="t10 big">
<path class="f" d="M593 1257.700H673L652.900 1282.700H612.500ZM573.500 1308.300L612.500 1282.700L593 1327.300ZM701 1277.300L676.300 1292.700L701 1312.700Z"/>
<path class="e" d="M593 1257.700H673L652.900 1282.700H612.500ZM593 1257.700L557.900 1272.700L573.500 1308.300L612.500 1282.700L593 1327.300L573.500 1308.300M652.900 1282.700L676.300 1292.700L701 1277.300V1312.700L676.300 1292.700M673 1257.700L701 1277.300M701 1312.700L656.800 1332.700L593 1327.300"/>
<g><circle class="v" cx="593" cy="1257.700" r="3.800"/><circle class="v" cx="673" cy="1257.700" r="3.800"/><circle class="v" cx="557.900" cy="1272.700" r="3.800"/><circle class="v" cx="612.500" cy="1282.700" r="3.800"/><circle class="v" cx="652.900" cy="1282.700" r="3.800"/><circle class="v" cx="701" cy="1277.300" r="3.800"/><circle class="v" cx="676.300" cy="1292.700" r="3.800"/><circle class="v" cx="573.500" cy="1308.300" r="3.800"/><circle class="v" cx="701" cy="1312.700" r="3.800"/><circle class="v" cx="593" cy="1327.300" r="3.800"/><circle class="v" cx="656.800" cy="1332.700" r="3.800"/></g>
<g class="l"><circle cx="554" cy="1297.700" r="10"/><text x="554" y="1297.700">1</text></g><g class="l"><circle cx="570.200" cy="1253.300" r="10"/><text x="570.200" y="1253.300">2</text></g><g class="l"><circle cx="634" cy="1270.700" r="10"/><text x="634" y="1270.700">3</text></g><g class="l"><circle cx="692.500" cy="1253.300" r="10"/><text x="692.500" y="1253.300">4</text></g><g class="l"><circle cx="716.600" cy="1291.700" r="10"/><text x="716.600" y="1291.700">5</text></g><g class="l"><circle cx="686.700" cy="1337.300" r="10"/><text x="686.700" y="1337.300">6</text></g><g class="l"><circle cx="623" cy="1347.700" r="10"/><text x="623" y="1347.700">7</text></g><g class="l"><circle cx="573.500" cy="1327.300" r="10"/><text x="573.500" y="1327.300">8</text></g><g class="l"><circle cx="656.800" cy="1300" r="10"/><text x="656.800" y="1300">9</text></g>
</g>
<g id="p23" class="t8">
<path class="f" d="M1047.800 1240H1084.200L1076.400 1260.700H1055.600ZM1027.600 1290.700L1052.300 1277.700L1059.500 1307.300ZM1076.400 1281.700L1059.500 1307.300H1092.700Z"/>
<path class="e" d="M1047.800 1240H1084.200L1076.400 1260.700H1055.600ZM1076.400 1260.700L1109 1273.300L1076.400 1281.700L1059.500 1307.300H1092.700L1076.400 1281.700M1055.600 1260.700L1052.300 1277.700L1027.600 1290.700L1059.500 1307.300L1052.300 1277.700M1047.800 1240L1027.600 1290.700M1084.200 1240L1129.700 1273.300L1092.700 1307.300"/>
<g><circle class="v" cx="1047.800" cy="1240" r="3.400"/><circle class="v" cx="1084.200" cy="1240" r="3.400"/><circle class="v" cx="1055.600" cy="1260.700" r="3.400"/><circle class="v" cx="1076.400" cy="1260.700" r="3.400"/><circle class="v" cx="1109" cy="1273.300" r="3.400"/><circle class="v" cx="1129.700" cy="1273.300" r="3.400"/><circle class="v" cx="1052.300" cy="1277.700" r="3.400"/><circle class="v" cx="1076.400" cy="1281.700" r="3.400"/><circle class="v" cx="1027.600" cy="1290.700" r="3.400"/><circle class="v" cx="1059.500" cy="1307.300" r="3.400"/><circle class="v" cx="1092.700" cy="1307.300" r="3.400"/></g>
<g class="l"><circle cx="1027.600" cy="1256.700" r="8"/><text x="1027.600" y="1256.700">1</text></g><g class="l"><circle cx="1066.700" cy="1222" r="8"/><text x="1066.700" y="1222">2</text></g><g class="l"><circle cx="1113.500" cy="1243.300" r="8"/><text x="1113.500" y="1243.300">3</text></g><g class="l"><circle cx="1122" cy="1298.300" r="8"/><text x="1122" y="1298.300">4</text></g><g class="l"><circle cx="1076.400" cy="1320.700" r="8"/><text x="1076.400" y="1320.700">5</text></g><g class="l"><circle cx="1036" cy="1308.300" r="8"/><text x="1036" y="1308.300">6</text></g><g class="l"><circle cx="1064.700" cy="1273.300" r="8"/><text x="1064.700" y="1273.300">7</text></g><g class="l"><circle cx="1092.700" cy="1256" r="8"/><text x="1092.700" y="1256">8</text></g><g class="l"><circle cx="1092.700" cy="1285" r="8"/><text x="1092.700" y="1285">9</text></g>
</g>
</svg>
